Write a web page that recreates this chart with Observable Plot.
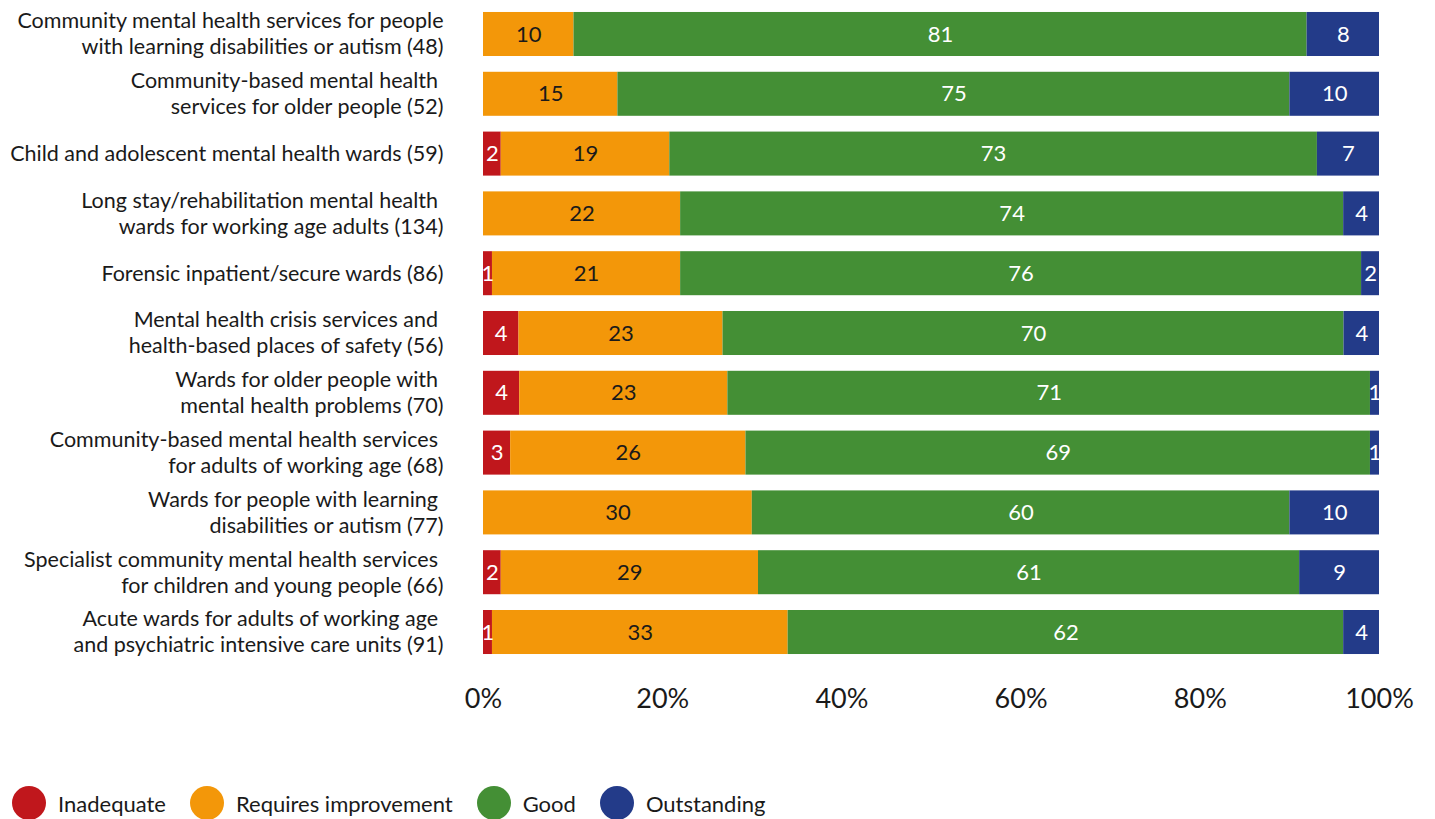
<!DOCTYPE html>
<html>
<head>
<meta charset="utf-8">
<script src="https://cdn.jsdelivr.net/npm/d3@7"></script>
<script src="https://cdn.jsdelivr.net/npm/@observablehq/plot@0.6"></script>
<style>
  body { margin: 0; background: #fff; font-family: Lato, "Open Sans", sans-serif; color: #1a1a1a; }
  #legend { display: flex; align-items: center; height: 46px; padding-left: 12px; font-size: 22px; }
  .item { display: flex; align-items: center; margin-right: 24px; }
  .dot { width: 34px; height: 34px; border-radius: 50%; margin-right: 12px; }
  g[aria-label="y-axis tick label"] text, g[aria-label="y-axis tick label"] tspan { white-space: pre; }
</style>
</head>
<body>
<div id="chart"></div>
<div id="legend"></div>
<script>
const categories = [
  "Community mental health services for people\nwith learning disabilities or autism (48)",
  "Community-based mental health \nservices for older people (52)",
  "Child and adolescent mental health wards (59)",
  "Long stay/rehabilitation mental health \nwards for working age adults (134)",
  "Forensic inpatient/secure wards (86)",
  "Mental health crisis services and \nhealth-based places of safety (56)",
  "Wards for older people with \nmental health problems (70)",
  "Community-based mental health services \nfor adults of working age (68)",
  "Wards for people with learning \ndisabilities or autism (77)",
  "Specialist community mental health services \nfor children and young people (66)",
  "Acute wards for adults of working age \nand psychiatric intensive care units (91)"
];
const ratings = ["Inadequate", "Requires improvement", "Good", "Outstanding"];
const ratingColors = ["#c0171c", "#f39709", "#448f35", "#233b89"];
const inadequate          = [0, 0, 2, 0, 1, 4, 4, 3, 0, 2, 1];
const requiresImprovement = [10, 15, 19, 22, 21, 23, 23, 26, 30, 29, 33];
const good                = [81, 75, 73, 74, 76, 70, 71, 69, 60, 61, 62];
const outstanding         = [8, 10, 7, 4, 2, 4, 1, 1, 10, 9, 4];
const xTicks = [0, 0.2, 0.4, 0.6, 0.8, 1];

const series = [inadequate, requiresImprovement, good, outstanding];
const rows = [];
categories.forEach((c, i) => {
  ratings.forEach((r, j) => {
    rows.push({category: c, rating: r, value: series[j][i]});
  });
});

const stackOpts = {x: "value", y: "category", z: "rating", offset: "normalize", order: ratings};
const darkLabel = d => d.rating === "Requires improvement";

const chart = Plot.plot({
  width: 1435,
  height: 780,
  marginLeft: 483,
  marginRight: 56,
  marginTop: 6,
  marginBottom: 120,
  style: {fontFamily: "Lato, 'Open Sans', sans-serif", color: "#1a1a1a", background: "#fff"},
  x: {domain: [0, 1]},
  y: {domain: categories, paddingInner: 0.264, paddingOuter: 0.1, round: false},
  color: {domain: ratings, range: ratingColors},
  marks: [
    Plot.barX(rows, Plot.stackX({...stackOpts, fill: "rating"})),
    Plot.text(rows, Plot.stackX({...stackOpts,
      text: d => (d.value > 0 && darkLabel(d)) ? String(d.value) : "",
      fill: "#1a1a1a", fontSize: 22})),
    Plot.text(rows, Plot.stackX({...stackOpts,
      text: d => (d.value > 0 && !darkLabel(d)) ? String(d.value) : "",
      fill: "#ffffff", fontSize: 22})),
    Plot.axisY({tickSize: 0, tickPadding: 40, fontSize: 21.5, lineHeight: 1.21, dy: -1.5, label: null}),
    Plot.axisX({ticks: xTicks, tickFormat: d => Math.round(d * 100) + "%", tickSize: 0, tickPadding: 28, fontSize: 27, label: null})
  ]
});
document.getElementById("chart").appendChild(chart);

const legend = document.getElementById("legend");
ratings.forEach((r, i) => {
  const item = document.createElement("div");
  item.className = "item";
  const dot = document.createElement("div");
  dot.className = "dot";
  dot.style.background = ratingColors[i];
  const label = document.createElement("span");
  label.textContent = r;
  item.appendChild(dot);
  item.appendChild(label);
  legend.appendChild(item);
});
</script>
</body>
</html>
